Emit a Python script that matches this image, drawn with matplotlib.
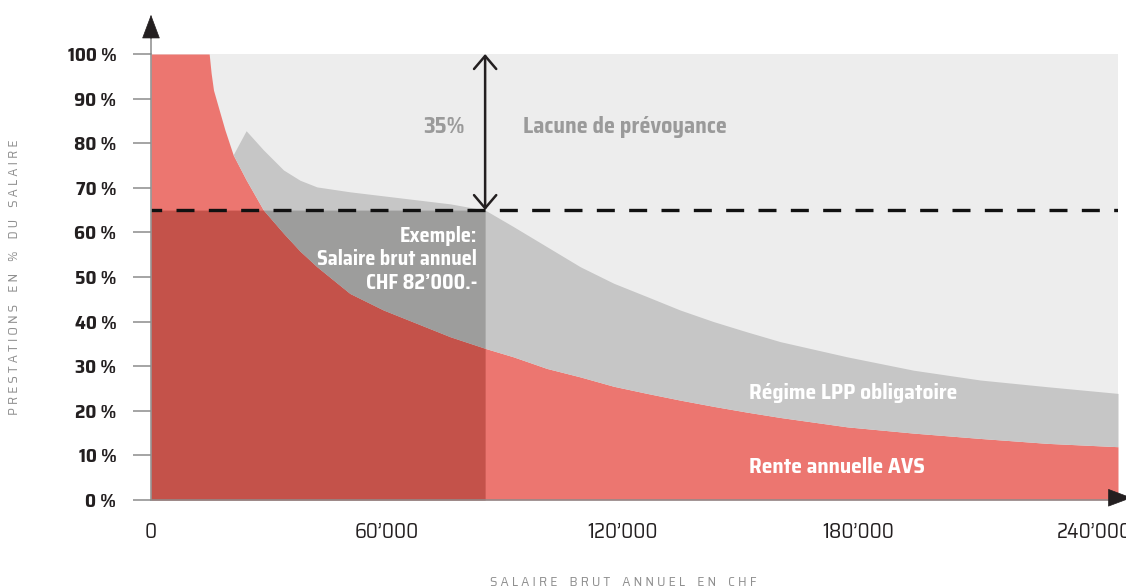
import numpy as np
import matplotlib.pyplot as plt

plt.rcParams['font.family'] = ['Saira SemiCondensed', 'Roboto', 'DejaVu Sans']

# salaire brut annuel (CHF) et prestations en % du salaire
salaire = np.array([0, 14.8, 15.3, 15.9, 17.1, 18.8, 20.9, 24.2, 28.6, 33.7, 37.9, 42.2, 50.6, 59.1, 67.6, 76.1,
                    85, 92.2, 100.7, 109.2, 117.7, 126.2, 134.6, 143.1, 151.6, 160.1, 177.1, 194, 211, 228, 246]) * 1000
avs = np.array([100, 100, 95.7, 91.9, 88.2, 83, 77.4, 71.8, 65, 59.8, 55.8, 52.3, 46.3, 42.6, 39.6, 36.6,
                34, 32.1, 29.5, 27.6, 25.5, 23.9, 22.4, 21, 19.7, 18.5, 16.4, 15, 13.8, 12.7, 11.95])
avs_lpp = np.array([100, 100, 95.7, 91.9, 88.2, 83, 77.4, 82.8, 78.5, 74, 71.7, 70.2, 69.1, 68.2, 67.3, 66.4,
                    65, 61.3, 56.8, 52.3, 48.6, 45.6, 42.6, 40, 37.7, 35.5, 32.1, 29.1, 26.9, 25.4, 23.9])

exemple = 85000        # position of the example salary on the chart
objectif = 65          # target level in %
xticks = [0, 60000, 120000, 180000, 240000]
xlabels = ['0', '60\u2019000', '120\u2019000', '180\u2019000', '240\u2019000']
yticks = list(range(0, 101, 10))
ylabels = ['%d %%' % v for v in yticks]

fig = plt.figure(figsize=(11.26, 5.88), dpi=100)
ax = fig.add_axes([151/1126, 88/588, 967/1126, 446/588])
ax.set_facecolor('#ededed')
ax.set_xlim(0, 246000)
ax.set_ylim(0, 100)

ax.fill_between(salaire, 0, avs, color='#ec7670', lw=0)
ax.fill_between(salaire, avs, avs_lpp, color='#c6c6c6', lw=0)
ex = salaire <= exemple
ax.fill_between(salaire[ex], 0, np.minimum(avs[ex], objectif), color='#c4524a', lw=0)
m = ex & (avs <= objectif)
ax.fill_between(salaire[m], avs[m], objectif, color='#9d9d9c', lw=0)

# dashed target line
line, = ax.plot([0, 246000], [objectif, objectif], color='#111111', lw=2.4, dash_capstyle='butt')
line.set_linestyle((2.2, (5.4, 4.3)))

# double arrow: gap
ax.annotate('', xy=(exemple, 100), xytext=(exemple, objectif),
            arrowprops=dict(arrowstyle='<->,head_length=0.47,head_width=0.4', color='#231f20',
                            lw=1.8, mutation_scale=20, shrinkA=0, shrinkB=0))

# axes
for s in ['top', 'right']:
    ax.spines[s].set_visible(False)
for s in ['left', 'bottom']:
    ax.spines[s].set_color('#8c8c8c')
    ax.spines[s].set_linewidth(1.1)
ax.plot([0, 0], [100, 104.5], color='#8c8c8c', lw=1.1, clip_on=False)
ax.annotate('', xy=(0, 108.8), xytext=(0, 103.5), annotation_clip=False,
            arrowprops=dict(arrowstyle='-|>,head_length=0.8,head_width=0.3', color='#231f20',
                            lw=0.5, mutation_scale=20, shrinkA=0, shrinkB=0))
ax.annotate('', xy=(249500, 0.5), xytext=(244000, 0.5), annotation_clip=False,
            arrowprops=dict(arrowstyle='-|>,head_length=0.8,head_width=0.3', color='#231f20',
                            lw=0.5, mutation_scale=20, shrinkA=0, shrinkB=0))

ax.set_yticks(yticks)
ax.set_yticklabels(ylabels, fontsize=14, fontweight='bold', color='#231f20')
ax.tick_params(axis='y', length=13, width=1.1, color='#8c8c8c', pad=12)
ax.set_xticks(xticks)
ax.set_xticklabels(xlabels, fontsize=15, fontweight='normal', color='#231f20')
ax.set_xticks([0], minor=True)
ax.tick_params(axis='x', which='major', length=0, pad=16)
ax.tick_params(axis='x', which='minor', length=15, width=1.1, color='#8c8c8c')

fig.text(15/1126, 1 - 277/588, 'P R E S T A T I O N S    E N    %    D U    S A L A I R E',
         rotation=90, ha='center', va='center', fontsize=10, fontweight='normal', color='#8f8f8f')
fig.text(623/1126, 1 - 582/588, 'S A L A I R E    B R U T    A N N U E L    E N    C H F',
         ha='center', va='center', fontsize=10, fontweight='normal', color='#8f8f8f')

# labels
ax.text(74500, 83.6, '35%', ha='center', va='center', fontsize=16, fontweight='bold', color='#9a9a9a')
ax.text(94600, 83.6, 'Lacune de prévoyance', ha='left', va='center', fontsize=16, fontweight='bold',
        color='#9a9a9a')
ax.text(83000, 61.4, 'Exemple:\nSalaire brut annuel\nCHF 82\u2019000.-', ha='right', va='top',
        fontsize=14.5, fontweight='bold', color='white', linespacing=1.2)
ax.text(152200, 24, 'Régime LPP obligatoire', ha='left', va='center', fontsize=15.5, fontweight='bold',
        color='white')
ax.text(152200, 7.4, 'Rente annuelle AVS', ha='left', va='center', fontsize=15.5, fontweight='bold',
        color='white')

fig.savefig('out.png', dpi=100)
